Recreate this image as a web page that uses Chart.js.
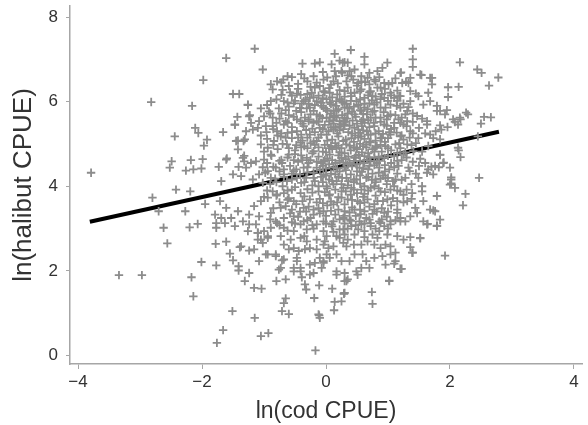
<!DOCTYPE html>
<html>
<head>
<meta charset="utf-8">
<title>ln(halibut CPUE) vs ln(cod CPUE)</title>
<style>
  html, body { margin: 0; padding: 0; background: #fff; }
</style>
</head>
<body>
<canvas id="chart" width="588" height="425"></canvas>
<script src="https://cdn.jsdelivr.net/npm/chart.js"></script>
<script>
// points, [ln(cod CPUE), ln(halibut CPUE)], grouped by region
const leftPts = [
  [-1.15,7.25],[-1.61,7.03],[-1.02,6.76],[-1.98,6.51],[-2.82,5.99],[-2.16,5.90],[-1.50,6.18],[-1.40,6.18],
  [-1.26,5.92],[-1.23,5.68],[-1.43,5.64],[-1.47,5.45],[-2.11,5.38],[-2.06,5.26],[-2.44,5.18],[-1.92,5.10],
  [-1.97,4.96],[-1.66,5.28],[-1.42,5.08],[-1.33,5.07],[-2.49,4.59],[-2.52,4.44],[-2.26,4.37],[-2.14,4.40],
  [-2.01,4.42],[-2.18,4.62],[-1.99,4.64],[-1.73,4.46],[-1.60,4.66],[-1.41,4.46],[-1.32,4.72],[-1.32,4.59],
  [-3.79,4.32],[-2.80,3.73],[-2.42,3.92],[-2.19,3.88],[-2.70,3.41],[-2.27,3.41],[-1.95,3.58],[-2.62,3.02],
  [-2.20,3.03],[-2.07,3.11],[-2.56,2.65],[-1.77,3.02],[-1.77,3.13],[-1.63,3.13],[-1.79,3.33],[-1.47,3.06],
  [-1.78,2.64],[-1.61,2.69],[-1.39,2.56],[-1.24,2.48],[-2.01,2.21],[-1.77,2.13],[-1.55,2.41],[-1.50,2.25],
  [-1.41,2.11],[-1.41,2.01],[-1.24,1.95],[-1.31,1.76],[-3.34,1.90],[-2.97,1.90],[-2.17,1.85],[-2.14,1.40],
  [-1.16,1.60],[-1.04,1.58],[-1.51,1.05],[-1.15,0.89],[-1.66,0.60],[-1.76,0.30],[-1.05,0.46],[-0.93,0.53],
  [-1.16,2.51],[-1.02,2.66],[-0.94,2.78],[-1.10,2.74],[-1.26,2.94],[-1.10,2.90],[-1.37,2.58],[-1.08,2.23],
  [-0.94,2.39],[-0.81,2.35],[-0.71,2.25],
  [-1.47,5.46],[-1.29,5.30],[-1.18,5.34],[-1.10,5.38],[-0.97,5.42],[-1.45,5.07],[-1.31,5.11],[-1.42,4.87],
  [-1.34,4.67],[-1.61,4.63],[-1.50,4.28],[-1.37,4.24],[-1.29,4.44],[-1.21,4.55],[-1.69,4.12],[-1.71,3.65],
  [-1.61,3.49],[-1.69,3.25],[-1.53,3.25],[-1.42,3.41],[-1.34,3.17],[-1.24,3.33],[-1.16,3.53],[-1.05,3.65],
  [-0.94,3.73],[-0.86,3.88],[-0.79,3.81],[-1.08,3.29],[-0.89,3.37],[-0.81,3.17],[-0.73,3.49]
];

const topPts = [
  [-0.38,6.90],[-0.18,6.90],[-0.10,6.93],[0.09,6.88],[0.22,6.97],[0.30,6.93],[0.14,6.72],[0.16,6.60],
  [0.26,6.68],[-0.89,6.41],[-0.79,6.48],[-0.69,6.52],[-0.62,6.60],[-0.55,6.58],[-0.45,6.42],[-0.60,6.37],
  [-0.86,6.29],[-0.20,6.60],[-0.04,6.52],[0.12,6.48],[-0.18,6.33],[-0.04,6.25],[0.06,6.21],[-0.23,6.21],
  [-0.10,6.37],[-1.26,5.93],[-1.24,5.65],[-1.05,5.84],[-0.92,5.77],[-0.89,6.01],[-0.76,5.84],[-0.68,6.01],
  [-0.55,6.14],[-0.41,6.16],[-0.52,5.96],[-0.39,5.96],[-0.31,5.84],[-1.08,5.54],[-1.21,5.50],[-0.86,5.62],
  [-0.65,5.54],[-0.47,5.58],[-0.34,5.62],[-0.20,5.78],[-0.07,5.90],[0.06,5.98],[0.22,6.06],[0.30,5.86],
  [0.12,5.78],[0.01,5.62],[0.17,5.62],[-0.15,5.54],[0.28,5.54],
  [-0.36,6.01],[-0.26,5.86],[-0.15,5.70],[-0.04,5.86],[0.06,5.62],[0.17,5.78],[0.22,5.54],[-0.41,5.54],
  [-0.28,5.54],[-0.26,6.09],[0.01,6.06],[0.17,6.01],[-0.15,6.01]
];

const rightPts = [
  [0.40,7.22],[1.40,7.25],[0.14,7.13],[0.62,7.06],[1.40,7.00],[1.40,6.82],[2.16,6.93],[2.44,6.76],
  [2.51,6.68],[2.78,6.57],[2.63,6.38],[1.97,6.34],[2.14,6.35],[1.97,6.11],[1.54,6.63],[1.71,6.56],
  [1.71,6.41],[1.21,6.69],[2.29,5.70],[2.17,5.58],[2.08,5.52],[2.55,5.64],[2.66,5.63],[2.50,5.48],
  [2.45,5.18],[2.14,4.85],[2.17,4.69],[1.84,4.74],[1.70,4.46],[1.90,4.56],[1.82,4.45],[2.02,4.21],
  [2.47,4.20],[1.96,5.40],[1.86,5.34],[1.77,5.30],[1.92,5.70],[1.79,5.78],
  [0.62,6.88],[0.27,6.92],[0.35,6.92],[0.38,6.72],[0.46,6.76],[0.83,6.72],[0.91,6.80],[0.99,6.92],
  [1.20,6.68],[1.36,6.56],[1.52,6.64],[1.68,6.56],[1.23,6.44],[1.33,6.44],[0.94,6.44],[0.78,6.52],
  [0.67,6.56],[0.57,6.48],[1.07,6.44],[1.36,6.25],[1.49,6.13],[1.65,6.21],[1.20,6.13],[1.04,6.21],
  [0.88,6.33],[0.72,6.25],[0.57,6.29],[0.46,6.21],[0.35,6.33],[1.68,6.01],[1.57,5.93],[1.79,5.90],
  [1.84,5.78],[1.95,5.80],[2.05,5.58],[2.16,5.62],[2.26,5.74],[1.63,5.54],[1.47,5.66],[1.31,5.78],
  [1.20,5.86],[1.04,5.93],[0.88,5.86],[0.78,5.93],[0.67,5.82],[0.57,5.78],
  [0.25,6.01],[0.35,5.86],[0.30,5.62],[0.46,5.70],[0.49,6.01],[0.62,6.09],[0.75,6.13],[0.57,5.54],
  [0.72,5.62],[0.88,5.62],[1.04,5.70],[1.17,5.58],[1.31,5.54],[0.94,6.09],[1.10,6.09],[1.36,6.01],
  [0.78,5.78],[0.62,5.86],[0.41,6.13],[0.30,6.25],[0.33,6.48],[0.41,6.60],[0.57,6.60],[0.70,6.41],
  [0.83,6.33],[0.25,6.72],
  [2.13,5.46],[1.84,5.44],[1.63,5.46],[1.68,5.22],[1.49,5.14],[1.73,5.14],[1.84,5.11],[1.65,4.95],
  [1.84,4.75],[2.13,4.91],[1.89,4.55],[2.00,4.44],[1.76,4.48],[1.60,4.55],[1.65,4.40],[1.49,4.20],
  [1.63,4.32],[1.73,4.28],[2.02,4.16],[2.00,4.04],[1.57,3.65],[1.55,3.88],[1.39,3.84],[1.31,3.65],
  [1.44,3.49],[1.68,3.45],[1.76,3.41],[1.47,3.37],[1.36,3.29],[1.28,3.17],[1.15,3.37],[1.20,3.25],
  [1.04,3.17],[1.57,3.17],[1.84,3.21]
];

const lowPts = [
  [2.25,3.82],[2.21,3.55],[2.02,4.07],[2.08,3.96],[1.79,3.77],[1.73,3.43],[1.79,3.07],[1.64,3.11],
  [1.92,2.36],[1.52,2.77],[1.39,2.43],[1.22,2.05],[1.02,1.77],[0.74,1.50],[0.75,1.22],[0.29,1.46],
  [0.14,1.27],[0.13,1.07],[0.10,1.58],[-0.11,0.95],[-0.11,1.66],[-0.17,0.12],
  [-0.71,1.05],[-0.60,0.98],[-0.68,1.24],[-0.65,1.35],[-0.19,1.36],[-0.12,0.97],[-0.10,0.89],[-0.80,1.76],
  [-0.65,1.80],[-0.76,2.03],[-0.73,2.07],[-0.39,1.85],[-0.34,1.68],[-0.26,1.91],[-0.52,2.07],[-0.47,2.23],
  [-0.41,1.99],[-0.07,2.07],[-0.04,2.23],[-0.32,1.56],
  [-1.24,3.10],[-1.13,3.10],[-1.00,2.94],[-1.05,2.74],[-0.94,2.82],[-1.10,2.90],[-0.81,2.39],[-0.97,2.39],
  [-0.68,2.27],[-0.60,2.51],[-0.52,2.54],[-0.44,2.47],[-0.34,2.51],[-0.26,2.54],[-0.15,2.51],[-0.04,2.62],
  [0.04,2.54],[0.12,2.58],[0.01,2.39],[-0.10,2.31],[-0.18,2.19],[-0.26,2.15],[-0.04,2.19],[0.06,2.31],
  [0.17,2.39],[0.25,2.23],[0.17,1.99],[0.17,1.91],[0.30,1.95],[0.33,1.76],[0.30,1.48],[0.25,1.28],
  [-0.89,3.02],[-0.79,3.13],[-0.68,3.02],[-0.52,2.94],[-0.41,3.10],[-0.31,2.98],[-0.15,3.10],[-0.04,2.94],
  [0.09,3.10],[0.22,2.98],[0.30,2.86],[-0.73,2.82],[-0.57,2.74],[-0.41,2.78],[-0.31,2.70],[-0.15,2.74],
  [0.01,2.82],[0.17,2.82],[0.28,2.66],[-0.47,2.31],[-0.41,2.07],[-0.20,1.95],[-0.52,1.99],
  [1.63,3.10],[1.79,3.06],[1.52,2.78],[1.36,2.80],[1.25,2.74],[1.15,2.82],[1.36,2.56],[1.40,2.43],
  [1.20,2.05],[1.02,1.76],[0.29,1.47],[1.12,2.43],[1.04,2.39],[1.12,2.23],[0.96,2.15],[1.10,2.17],
  [0.91,2.35],[0.78,2.31],[0.88,2.54],[0.96,2.62],[1.04,2.58],[0.78,2.62],[0.67,2.70],[0.57,2.62],
  [0.75,2.86],[0.86,2.94],[0.62,2.94],[0.46,2.86],[0.35,2.74],[0.33,2.58],[0.46,2.39],[0.38,2.23],
  [0.49,1.99],[0.57,2.07],[0.70,2.07],[0.35,1.80],[0.30,1.76],[0.51,1.91],[0.65,2.23],[0.59,2.39],
  [0.28,2.98],[0.41,3.06],[0.57,3.10],[0.72,3.13],[0.88,3.13],[1.04,3.10],[1.20,3.17],[0.83,2.78],
  [0.99,2.86],[0.94,3.06]
];

const corePts = [
  [-1.13,4.59],[-1.00,4.63],[-0.89,4.75],[-0.94,4.91],[-1.05,4.99],[-0.84,5.07],[-0.79,5.30],[-0.86,5.42],
  [-0.68,5.46],[-0.73,5.18],[-0.63,4.99],[-0.55,5.14],[-0.47,5.30],[-0.36,5.42],[-0.41,5.03],[-0.60,4.75],
  [-0.71,4.55],[-0.81,4.44],[-0.94,4.36],[-1.08,4.28],[-1.18,4.16],[-1.02,4.08],[-0.89,4.20],[-0.68,4.28],
  [-0.52,4.36],[-0.63,4.12],[-0.47,4.20],[-0.36,4.44],[-0.31,4.67],[-0.20,4.83],[-0.15,5.07],[-0.26,5.22],
  [-0.10,5.38],[0.01,5.22],[0.12,5.34],[0.22,5.42],[0.28,5.07],[0.17,4.91],[0.06,4.75],[-0.04,4.59],
  [-0.15,4.44],[-0.20,4.20],[-0.04,4.28],[0.12,4.44],[0.25,4.67],[0.30,4.44],[0.17,4.12],[0.01,4.00],
  [-0.12,3.88],[-0.26,3.69],[-0.41,3.84],[-0.55,3.92],[-0.68,3.84],[-0.52,3.65],[-0.36,3.49],[-0.20,3.33],
  [-0.04,3.41],[0.12,3.57],[0.25,3.73],[0.28,3.96],[0.06,3.81],[-0.04,3.17],[0.12,3.17],[0.28,3.25],
  [-0.52,3.29],[-0.36,3.17],[-0.68,3.25],[-0.65,3.53],
  [0.30,5.46],[0.46,5.38],[0.62,5.50],[0.78,5.42],[0.94,5.46],[1.10,5.38],[1.25,5.46],[1.36,5.30],
  [1.20,5.18],[1.04,5.22],[0.88,5.14],[0.72,5.22],[0.57,5.18],[0.41,5.14],[0.33,4.99],[0.49,4.91],
  [0.65,4.99],[0.80,4.91],[0.96,4.95],[1.12,4.99],[1.31,4.99],[1.41,4.83],[1.25,4.75],[1.10,4.71],
  [0.94,4.67],[0.78,4.67],[0.62,4.71],[0.46,4.67],[0.35,4.51],[0.54,4.44],[0.70,4.48],[0.86,4.44],
  [1.02,4.40],[1.17,4.48],[1.33,4.44],[1.28,4.20],[1.12,4.16],[0.96,4.20],[0.80,4.16],[0.65,4.20],
  [0.49,4.16],[0.33,4.20],[0.41,3.96],[0.57,3.92],[0.72,3.96],[0.88,3.88],[1.04,3.92],[1.20,3.88],
  [1.15,3.65],[0.99,3.69],[0.83,3.65],[0.67,3.69],[0.51,3.65],[0.35,3.69],[0.30,3.41],[0.46,3.45],
  [0.62,3.41],[0.78,3.45],[0.94,3.37],[0.38,3.21],[0.54,3.17],[0.70,3.21],[0.86,3.17],
  [-0.70,6.28],[-0.45,6.30],[-0.25,6.35],[0.05,6.32],[0.22,6.27],[0.50,6.38],[0.70,6.22],[0.95,6.30],
  [1.15,6.26],[-0.80,6.05],[-0.62,5.98],[-0.33,6.05],[-0.08,5.97],[0.10,6.10],[0.33,5.95],[0.55,6.05],
  [0.82,5.98],[1.00,6.02],[1.25,5.95],[-0.95,5.92],[-0.90,5.72],[-0.60,5.68],[-0.40,5.75],[-0.10,5.66],
  [0.08,5.72],[0.26,5.68],[0.42,5.76],[0.66,5.70],[0.93,5.75],[1.12,5.68],[1.40,5.72],[-0.85,5.35],
  [-0.55,5.40],[-0.22,5.36],[-0.02,5.45],[0.15,5.38],[0.38,5.43],[0.52,5.34],[0.70,5.40],[0.85,5.30],
  [1.05,5.35],[1.30,5.42],[1.50,5.38],[-0.95,5.12],[-0.65,5.15],[-0.38,5.08],[-0.12,5.15],[0.10,5.10],
  [0.20,5.18],[0.45,5.05],[0.62,5.12],[0.80,5.08],[1.00,5.14],[1.25,5.10],[1.45,5.02],[-1.00,4.82],
  [-0.78,4.88],[-0.50,4.85],[-0.30,4.90],[-0.05,4.82],[0.10,4.88],[0.22,4.80],[0.40,4.85],[0.58,4.80],
  [0.75,4.88],[0.90,4.82],[1.05,4.85],[1.20,4.90],[1.55,4.82],[-0.95,4.55],[-0.72,4.62],[-0.45,4.58],
  [-0.25,4.62],[-0.08,4.55],[0.10,4.62],[0.28,4.56],[0.45,4.60],[0.62,4.55],[0.86,4.60],[1.05,4.55],
  [1.22,4.62],[1.40,4.58],[-0.98,4.32],[-0.75,4.35],[-0.55,4.30],[-0.30,4.33],[-0.10,4.38],[0.08,4.30],
  [0.22,4.35],[0.40,4.28],[0.58,4.34],[0.75,4.30],[0.95,4.35],[1.15,4.30],[1.35,4.36],[-0.90,4.05],
  [-0.70,4.00],[-0.40,4.08],[-0.22,4.02],[-0.05,4.10],[0.12,4.05],[0.35,4.02],[0.55,4.06],[0.78,4.00],
  [0.98,4.05],[1.10,4.00],[1.38,4.05],[-1.00,3.75],[-0.80,3.78],[-0.60,3.72],[-0.35,3.76],[-0.10,3.70],
  [0.05,3.78],[0.20,3.74],[0.40,3.80],[0.60,3.75],[0.80,3.78],[1.08,3.72],[1.25,3.80],[-0.85,3.48],
  [-0.55,3.45],[-0.28,3.52],[-0.12,3.48],[0.02,3.55],[0.20,3.45],[0.42,3.50],[0.70,3.52],[0.90,3.48],
  [1.05,3.55],[-0.90,3.22],[-0.45,3.28],[-0.25,3.25],[0.00,3.30],[0.22,3.22],[0.48,3.30],[0.65,3.25],
  [0.98,3.28],[1.12,3.20],[-0.62,2.95],[-0.20,3.00],[0.12,2.92],[0.35,3.00],[0.52,2.98],[0.80,3.00]
];

// extra points filling the dense middle of the cloud
const densePts = [
  [-0.35,6.55],[0.02,6.57],[0.44,6.52],[0.86,6.58],[-0.15,6.45],[0.19,6.43],[0.63,6.46],[1.01,6.41],
  [1.29,6.47],[-0.72,6.16],[-0.47,6.19],[-0.12,6.14],[0.18,6.17],[0.40,6.20],[0.68,6.15],[0.90,6.18],
  [1.18,6.13],[1.45,6.19],[-0.60,5.88],[-0.42,5.85],[-0.18,5.92],[0.00,5.83],[0.16,5.90],[0.38,5.84],
  [0.52,5.92],[0.70,5.96],[0.96,5.86],[1.14,5.90],[1.33,5.87],[-0.75,5.60],[-0.52,5.64],[-0.28,5.58],
  [-0.06,5.61],[0.12,5.56],[0.34,5.60],[0.48,5.64],[0.60,5.58],[0.80,5.62],[0.98,5.58],[1.22,5.62],
  [1.55,5.60],[-0.96,5.28],[-0.62,5.26],[-0.40,5.22],[-0.18,5.28],[0.04,5.30],[0.18,5.25],[0.36,5.28],
  [0.55,5.26],[0.66,5.30],[0.92,5.24],[1.14,5.27],[1.40,5.25],[-0.70,5.00],[-0.48,4.97],[-0.25,5.02],
  [-0.02,4.98],[0.15,5.02],[0.38,4.96],[0.55,5.00],[0.72,5.04],[0.88,4.98],[1.18,5.02],[1.38,4.97],
  [-0.88,4.72],[-0.62,4.68],[-0.40,4.73],[-0.12,4.70],[0.02,4.66],[0.20,4.73],[0.36,4.70],[0.53,4.74],
  [0.70,4.69],[1.00,4.72],[1.30,4.68],[-0.85,4.46],[-0.58,4.48],[-0.30,4.45],[-0.05,4.48],[0.18,4.42],
  [0.42,4.47],[0.60,4.43],[0.78,4.50],[1.10,4.45],[1.50,4.48],[-0.82,4.18],[-0.55,4.16],[-0.32,4.20],
  [-0.08,4.22],[0.05,4.16],[0.26,4.20],[0.45,4.16],[0.68,4.22],[0.88,4.18],[1.22,4.15],[-0.62,3.90],
  [-0.30,3.93],[-0.02,3.86],[0.15,3.92],[0.32,3.88],[0.50,3.84],[0.68,3.90],[0.95,3.86],[1.30,3.92],
  [-0.75,3.62],[-0.48,3.58],[-0.15,3.62],[0.08,3.64],[0.30,3.57],[0.55,3.60],[0.78,3.58],[1.25,3.62],
  [-0.58,3.36],[-0.32,3.40],[-0.10,3.36],[0.15,3.33],[0.38,3.38],[0.56,3.34],[0.82,3.40],[1.15,3.45],
  [-0.75,3.08],[-0.50,3.12],[-0.22,3.08],[0.00,3.12],[0.30,3.12],[0.48,3.08],[0.72,3.06],[1.00,3.00],
  [-0.35,2.82],[-0.02,2.70],[0.22,2.78],[0.62,2.80],[-0.68,2.62],[0.45,2.62],
  [-0.28,5.95],[-0.05,6.08],[0.14,5.66],[0.27,5.98],[0.45,5.88],[0.60,5.71],[0.74,6.03],[-0.20,5.50],
  [0.05,5.53],[0.24,5.47],[0.43,5.55],[0.58,5.42],[0.77,5.50],[0.98,5.43],[-0.32,5.33],[-0.08,5.22],
  [0.08,5.40],[0.28,5.35],[0.47,5.20],[0.68,5.22],[0.90,5.15],[-0.45,5.15],[-0.20,5.06],[0.02,5.08],
  [0.32,5.10],[0.52,5.15],[0.70,5.05],[0.95,5.05],[-0.35,4.95],[-0.12,4.92],[0.08,4.95],[0.25,4.90],
  [0.50,4.88],[0.65,4.92],[0.82,4.95],[-0.50,4.76],[-0.22,4.78],[0.00,4.80],[0.30,4.78],[0.48,4.72],
  [0.68,4.78],[0.85,4.70],[-0.38,4.62],[-0.15,4.58],[0.05,4.52],[0.22,4.60],[0.38,4.55],[0.55,4.60],
  [0.72,4.60],[0.95,4.50],[-0.48,4.40],[-0.20,4.32],[0.00,4.42],[0.15,4.28],[0.32,4.38],[0.50,4.35],
  [0.68,4.40],[0.85,4.32],[-0.35,4.10],[-0.12,4.00],[0.10,4.12],[0.25,4.05],[0.45,4.10],[0.62,4.00],
  [0.80,4.10],[1.00,4.20],[-0.65,5.80],[-0.80,5.50],[-0.72,5.25],[-0.85,4.98],[-0.68,4.40],[-0.80,4.10],
  [1.20,5.50],[1.35,5.15],[1.28,4.80],[1.45,4.30],[1.38,3.70],[-0.95,3.90],[-1.02,4.45],[-1.05,5.20],
  [-1.00,5.65],[1.60,5.25],[1.52,4.65],[1.55,4.00]
];

const densePts2 = [
  [-0.58,6.22],[-0.30,6.18],[-0.02,6.22],[0.30,6.12],[0.55,6.25],[0.80,6.12],[1.05,6.15],[-0.50,6.02],
  [-0.20,6.10],[0.08,5.94],[0.40,6.02],[0.62,5.95],[0.88,6.06],[1.15,6.02],[-0.72,5.72],[-0.48,5.78],
  [-0.25,5.70],[0.02,5.78],[0.20,5.82],[0.35,5.72],[0.55,5.80],[0.75,5.76],[1.00,5.66],[1.28,5.70],
  [-0.62,5.50],[-0.38,5.48],[-0.12,5.52],[0.12,5.48],[0.32,5.52],[0.50,5.48],[0.68,5.56],[0.88,5.52],
  [1.10,5.50],[1.40,5.52],[-0.78,5.20],[-0.55,5.28],[-0.30,5.15],[-0.05,5.35],[0.22,5.32],[0.42,5.25],
  [0.60,5.32],[0.80,5.25],[1.02,5.28],[1.22,5.20],[-0.60,4.90],[-0.40,4.92],[-0.18,4.98],[0.05,4.90],
  [0.20,4.96],[0.45,4.92],[0.60,4.95],[0.78,4.82],[1.00,4.90],[1.15,4.78],[-0.75,4.60],[-0.52,4.62],
  [-0.28,4.55],[-0.02,4.62],[0.15,4.55],[0.32,4.64],[0.50,4.52],[0.66,4.62],[0.82,4.55],[1.15,4.60],
  [-0.68,4.22],[-0.42,4.28],[-0.18,4.12],[0.00,4.25],[0.20,4.22],[0.36,4.12],[0.55,4.25],[0.74,4.15],
  [0.92,4.25],[1.08,4.12],[-0.50,3.98],[-0.22,3.85],[0.02,3.95],[0.25,3.88],[0.45,3.92],[0.62,3.82],
  [0.85,3.95],[1.15,3.90],[-0.62,3.68],[-0.38,3.65],[-0.05,3.60],[0.18,3.62],[0.42,3.68],[0.62,3.62],
  [0.92,3.65],[-0.42,3.40],[-0.20,3.45],[0.08,3.42],[0.30,3.30],[0.55,3.45],[0.75,3.35],[1.00,3.40],
  [-0.55,3.15],[-0.30,3.20],[0.10,3.05],[0.40,3.18],[0.62,3.12],[0.90,3.22],
  [-0.40,6.65],[-0.05,6.70],[0.35,6.62],[0.70,6.68],[-0.72,6.45],[-0.30,6.48],[0.08,6.40],[0.52,6.44],
  [0.80,6.48],[1.12,6.55]
];

// fitted line end points
const fitX = [-3.81, 2.79];
const fitY = [3.16, 5.29];

const xTicks = [-4, -2, 0, 2, 4];
const yTicks = [0, 2, 4, 6, 8];

const allPts = [].concat(leftPts, topPts, rightPts, lowPts, corePts, densePts, densePts2);
const scatterData = allPts.map(p => ({ x: p[0], y: p[1] }));
const fitData = fitX.map((x, i) => ({ x: x, y: fitY[i] }));

const minus = v => (v < 0 ? '\u2212' + Math.abs(v) : String(v));
const axisGrey = '#a6a6a6';
const textGrey = '#333';

new Chart(document.getElementById('chart'), {
    type: 'scatter',
    data: {
        datasets: [{
            data: scatterData,
            pointStyle: 'cross',
            pointRadius: 4.2,
            pointBorderWidth: 1.8,
            borderColor: '#8c8c8c',
            backgroundColor: '#8c8c8c',
            order: 0
        }, {
            type: 'line',
            data: fitData,
            borderColor: '#000',
            borderWidth: 4,
            pointRadius: 0,
            fill: false,
            order: 1
        }]
    },
    options: {
        responsive: false,
        animation: false,
        events: [],
        layout: { padding: { top: 5, right: 0, left: 0, bottom: 0 } },
        plugins: { legend: { display: false }, tooltip: { enabled: false } },
        scales: {
            x: {
                type: 'linear',
                min: -4.13,
                max: 4.13,
                afterBuildTicks: s => { s.ticks = xTicks.map(v => ({ value: v })); },
                afterFit: s => { s.height = 61; s.paddingLeft = 0; s.paddingRight = 0; },
                grid: { display: true, drawOnChartArea: false, drawTicks: true, tickLength: 5, color: axisGrey },
                border: { display: true, color: axisGrey, width: 1.5 },
                ticks: {
                    color: textGrey,
                    font: { family: 'Liberation Sans', size: 17 },
                    padding: 3,
                    callback: v => minus(v)
                },
                title: {
                    display: true,
                    text: 'ln(cod CPUE)',
                    color: textGrey,
                    font: { family: 'Liberation Sans', size: 23 },
                    padding: { top: 1, bottom: 0 }
                }
            },
            y: {
                type: 'linear',
                min: -0.2,
                max: 8.26,
                afterBuildTicks: s => { s.ticks = yTicks.map(v => ({ value: v })); },
                afterFit: s => { s.width = 70; s.paddingTop = 0; s.paddingBottom = 0; },
                grid: { display: true, drawOnChartArea: false, drawTicks: true, tickLength: 4, color: axisGrey },
                border: { display: true, color: axisGrey, width: 1.5 },
                ticks: {
                    color: textGrey,
                    font: { family: 'Liberation Sans', size: 17 },
                    padding: 8,
                    callback: v => minus(v)
                },
                title: {
                    display: true,
                    text: 'ln(halibut CPUE)',
                    color: textGrey,
                    font: { family: 'Liberation Sans', size: 26 },
                    padding: { top: 8, bottom: 0 }
                }
            }
        }
    }
});
</script>
</body>
</html>
